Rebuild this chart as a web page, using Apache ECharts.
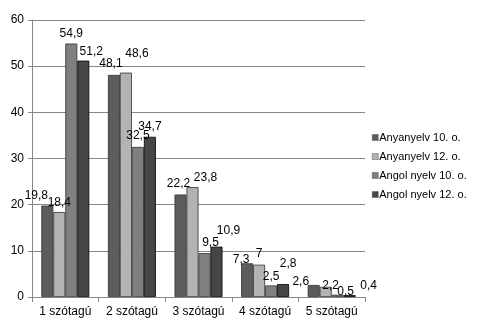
<!DOCTYPE html>
<html>
<head>
<meta charset="utf-8">
<script src="https://cdn.jsdelivr.net/npm/echarts@6/dist/echarts.min.js"></script>
<style>html,body{margin:0;padding:0;background:#fff}#c{width:483px;height:335px}</style>
</head>
<body>
<div id="c"></div>
<script>
var categories = ['1 szótagú', '2 szótagú', '3 szótagú', '4 szótagú', '5 szótagú'];
var seriesNames = ['Anyanyelv 10. o.', 'Anyanyelv 12. o.', 'Angol nyelv 10. o.', 'Angol nyelv 12. o.'];
var anyanyelv10 = [19.8, 48.1, 22.2, 7.3, 2.6];
var anyanyelv12 = [18.4, 48.6, 23.8, 7, 2.2];
var angol10 = [54.9, 32.5, 9.5, 2.5, 0.5];
var angol12 = [51.2, 34.7, 10.9, 2.8, 0.4];
var yTicks = [0, 10, 20, 30, 40, 50, 60];

// styling: label nudges (px) to mimic the original's label placement
var labelShift = [
  [[-11, -2], [-3, -3], [-2, -3], [-6, 4], [-13, 5]],
  [[0, -1], [11, -11], [13, -1], [0, -3], [5, 7]],
  [[0, -2], [0, -3], [6, -2], [0, -1], [8, 5]],
  [[8, -1], [0, -2], [12, -8], [5, -12], [19, -1]]
];
var colors = ['#5c5c5c', '#b3b3b3', '#808080', '#464646'];
var values = [anyanyelv10, anyanyelv12, angol10, angol12];
var font = 'Liberation Sans, Arial, sans-serif';

var chart = echarts.init(document.getElementById('c'), null, {renderer: 'canvas'});
chart.setOption({
  animation: false,
  backgroundColor: '#fff',
  color: colors,
  grid: {left: 32, right: 118, top: 20, bottom: 38},
  legend: {
    orient: 'vertical',
    left: 372,
    top: 132,
    padding: 0,
    itemWidth: 6,
    itemHeight: 6,
    itemGap: 8,
    icon: 'rect',
    textStyle: {fontFamily: font, fontSize: 11, color: '#000', padding: [0, 0, 0, -4]},
    data: seriesNames.map(function (n) {
      return {name: n, itemStyle: {borderColor: '#555', borderWidth: 0.5}};
    })
  },
  xAxis: {
    type: 'category',
    data: categories,
    axisLine: {lineStyle: {color: '#888', width: 1}},
    axisTick: {show: true, length: 5, lineStyle: {color: '#888'}},
    axisLabel: {interval: 0, fontFamily: font, fontSize: 12, color: '#000', margin: 9}
  },
  yAxis: {
    type: 'value',
    min: yTicks[0],
    max: yTicks[yTicks.length - 1],
    interval: 10,
    axisLine: {show: true, lineStyle: {color: '#888'}},
    axisTick: {show: true, length: 4, lineStyle: {color: '#888'}},
    splitLine: {lineStyle: {color: '#888', width: 1}},
    axisLabel: {fontFamily: font, fontSize: 12, color: '#000', margin: 8}
  },
  series: seriesNames.map(function (n, i) {
    return {
      name: n,
      type: 'bar',
      data: values[i].map(function (v, j) {
        return {value: v, label: {offset: labelShift[i][j]}};
      }),
      barGap: '0%',
      barCategoryGap: '28%',
      itemStyle: {color: colors[i], borderColor: i === 3 ? '#000' : '#333', borderWidth: 0.8},
      label: {
        show: true,
        position: 'top',
        distance: 2,
        fontFamily: font,
        fontSize: 12,
        color: '#000',
        formatter: function (p) { return String(p.value).replace('.', ','); }
      }
    };
  })
});
</script>
</body>
</html>
